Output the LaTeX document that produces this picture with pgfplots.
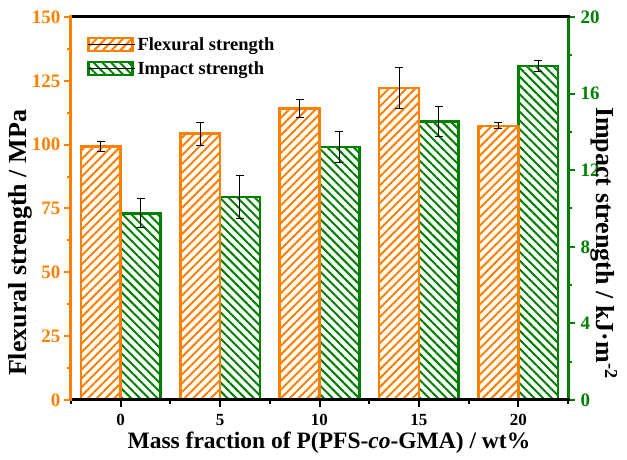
\documentclass[border=0pt]{standalone}
\usepackage{fontspec}
\setmainfont{Liberation Serif}
\usepackage{pgfplots}
\pgfplotsset{compat=1.18}
\usetikzlibrary{patterns.meta}
\definecolor{myorange}{RGB}{255,128,0}
\definecolor{mygreen}{RGB}{0,128,0}
\pgfplotstableread{
x y e
0 99.2 1.9
5 104.3 4.5
10 114.1 3.6
15 122.1 8.0
20 107.4 1.1
}\flex
\pgfplotstableread{
x y e
0 9.75 0.75
5 10.6 1.1
10 13.2 0.8
15 14.55 0.77
20 17.45 0.3
}\impact
\begin{document}
\begin{tikzpicture}
% ---------- right axis: impact strength ----------
\begin{axis}[
  at={(0pt,0pt)}, anchor=south west,
  scale only axis, width=497pt, height=383pt,
  xmin=-2.5, xmax=22.5, ymin=0, ymax=20,
  ybar, bar width=2,
  axis x line=none, axis y line*=right,
  y axis line style={mygreen, line width=3pt, line cap=rect},
  ytick={0,4,...,20}, minor ytick={2,6,...,18},
  tick align=outside,
  major tick length=7pt, minor tick length=4pt,
  ytick style={mygreen, line width=2pt},
  minor tick style={mygreen, line width=2pt},
  yticklabel style={mygreen, font=\fontsize{19}{19}\selectfont\bfseries, xshift=2pt},
  /pgf/number format/assume math mode=true,
  ylabel={Impact strength / kJ·m\textsuperscript{-2}},
  ylabel style={at={(axis description cs:1.072,0.41)}, anchor=center, rotate=180,
    font=\fontsize{26}{26}\selectfont\bfseries},
]
\addplot[ybar, bar shift=1, draw=mygreen, line width=2.5pt,
  pattern={Lines[angle=-45,distance=6.2pt,line width=2pt]}, pattern color=mygreen,
  error bars/.cd, y dir=both, y explicit,
  error bar style={black, line width=1pt},
  error mark options={black, rotate=90, mark size=4pt, line width=1pt}]
  table[x=x, y=y, y error=e] {\impact};
\end{axis}
% ---------- left axis: flexural strength ----------
\begin{axis}[
  at={(0pt,0pt)}, anchor=south west,
  scale only axis, width=497pt, height=383pt,
  xmin=-2.5, xmax=22.5, ymin=0, ymax=150,
  ybar, bar width=2,
  axis on top,
  axis x line=box, axis y line*=left,
  x axis line style={black, line width=3pt, line cap=rect},
  y axis line style={myorange, line width=3pt, line cap=rect},
  xtick={0,5,...,20}, minor xtick={-2.5,2.5,...,22.5},
  xtick pos=bottom,
  ytick={0,25,...,150}, minor ytick={12.5,37.5,...,137.5},
  tick align=outside,
  major tick length=7pt, minor tick length=4pt,
  xtick style={black, line width=2pt},
  ytick style={myorange, line width=2pt},
  xticklabel style={black, font=\fontsize{17}{17}\selectfont\bfseries, yshift=-4pt},
  yticklabel style={myorange, font=\fontsize{19}{19}\selectfont\bfseries},
  /pgf/number format/assume math mode=true,
  xlabel={Mass fraction of P(PFS-\textit{co}-GMA) / wt\%},
  xlabel style={at={(axis description cs:0.519,-0.112)}, anchor=center,
    font=\fontsize{23.5}{23.5}\selectfont\bfseries},
  ylabel={Flexural strength / MPa},
  ylabel style={at={(axis description cs:-0.1026,0.41)}, anchor=center,
    font=\fontsize{26}{26}\selectfont\bfseries},
  legend style={at={(axis description cs:0.032,0.953)}, anchor=north west,
    draw=none, fill=none, inner sep=0pt, row sep=6pt,
    font=\fontsize{18.5}{18.5}\selectfont\bfseries},
  legend cell align=left,
]
\addlegendimage{legend image code/.code={\draw[draw=myorange, line width=2.5pt,
  pattern={Lines[angle=45,distance=6.2pt,line width=2pt]}, pattern color=myorange]
  (0pt,-6.5pt) rectangle (44pt,6.5pt); \path (0pt,0pt) -- (47pt,0pt);}}
\addlegendentry{Flexural strength}
\addlegendimage{legend image code/.code={\draw[draw=mygreen, line width=2.5pt,
  pattern={Lines[angle=-45,distance=6.2pt,line width=2pt]}, pattern color=mygreen]
  (0pt,-6.5pt) rectangle (44pt,6.5pt); \path (0pt,0pt) -- (47pt,0pt);}}
\addlegendentry{Impact strength}
\addplot[ybar, bar shift=-1, forget plot, draw=myorange, line width=2.5pt,
  pattern={Lines[angle=45,distance=6.2pt,line width=2pt]}, pattern color=myorange,
  error bars/.cd, y dir=both, y explicit,
  error bar style={black, line width=1pt},
  error mark options={black, rotate=90, mark size=4pt, line width=1pt}]
  table[x=x, y=y, y error=e] {\flex};
\end{axis}
\pgfresetboundingbox
\path (-71pt,-60pt) rectangle (556pt,400pt);
\end{tikzpicture}
\end{document}
